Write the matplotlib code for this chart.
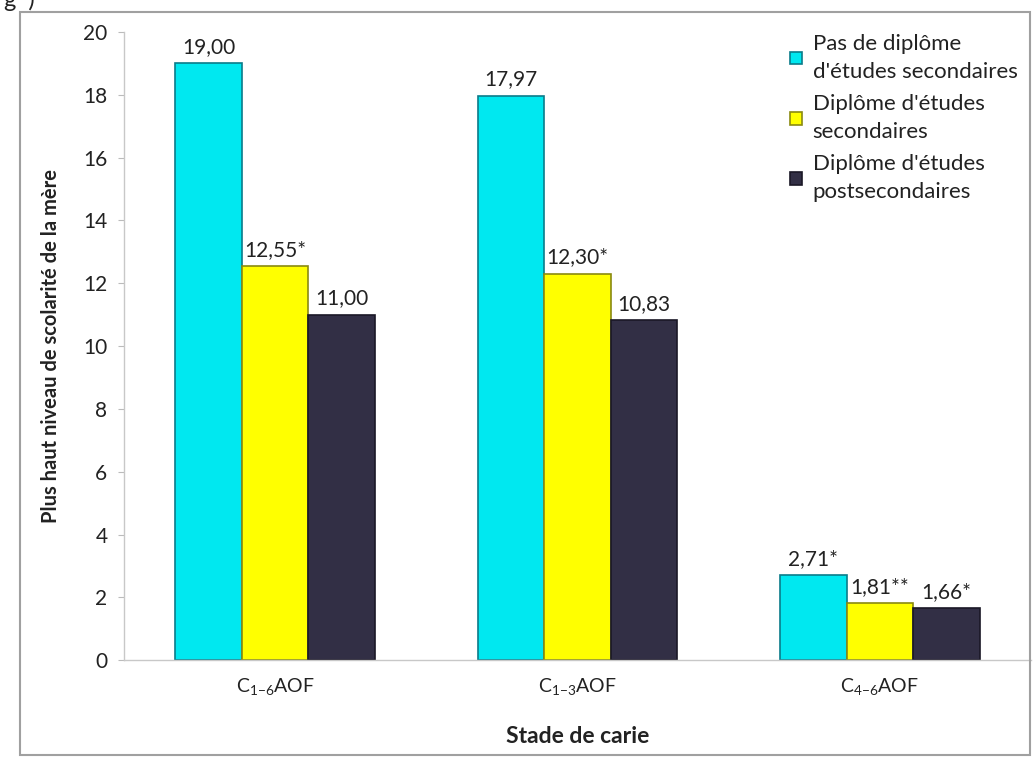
import numpy as np
import matplotlib
matplotlib.use("Agg")
import matplotlib.pyplot as plt
from matplotlib.patches import Rectangle

plt.rcParams['font.family'] = ['Lato', 'DejaVu Sans']
plt.rcParams['mathtext.fontset'] = 'custom'
plt.rcParams['mathtext.rm'] = 'Lato'

#----------------------------------------------------
# data
#----------------------------------------------------
categories = [r'C$_{1\mathrm{-}6}$AOF', r'C$_{1\mathrm{-}3}$AOF', r'C$_{4\mathrm{-}6}$AOF']
series_names = ["Pas de diplôme\nd'études secondaires",
                "Diplôme d'études\nsecondaires",
                "Diplôme d'études\npostsecondaires"]
no_diploma = [19.00, 17.97, 2.71]
secondary = [12.55, 12.30, 1.81]
postsecondary = [11.00, 10.83, 1.66]
no_diploma_labels = ['19,00', '17,97', '2,71*']
secondary_labels = ['12,55*', '12,30*', '1,81**']
postsecondary_labels = ['11,00', '10,83', '1,66*']
yticks = [0, 2, 4, 6, 8, 10, 12, 14, 16, 18, 20]

colors = ['#00E8F0', '#FFFF00', '#322F45']
edges = ['#0A7C8A', '#8A8A10', '#1A1826']

#----------------------------------------------------
# figure
#----------------------------------------------------
fig = plt.figure(figsize=(10.34, 7.59), dpi=100)
ax = fig.add_axes([0.120, 0.130, 0.877, 0.828])

x = np.arange(len(categories))
w = 0.22
all_vals = [no_diploma, secondary, postsecondary]
all_labels = [no_diploma_labels, secondary_labels, postsecondary_labels]
for i, (vals, labs) in enumerate(zip(all_vals, all_labels)):
    pos = x + (i - 1) * w
    bars = ax.bar(pos, vals, width=w, color=colors[i], edgecolor=edges[i],
                  linewidth=1.2, label=series_names[i])
    for b, lab in zip(bars, labs):
        ax.text(b.get_x() + b.get_width() / 2, b.get_height() + 0.2, lab,
                ha='center', va='bottom', fontsize=15, color='#222222')

ax.set_xlim(-0.5, 2.5)
ax.set_ylim(0, 20)
ax.set_yticks(yticks)
ax.set_yticklabels([str(t) for t in yticks], fontsize=15, color='#222222')
ax.set_xticks(x)
ax.set_xticklabels(categories, fontsize=14, color='#222222')
ax.tick_params(axis='y', length=4, color='#BBBBBB', pad=8)
ax.tick_params(axis='x', length=0, pad=12)

for s in ['top', 'right']:
    ax.spines[s].set_visible(False)
for s in ['left', 'bottom']:
    ax.spines[s].set_color('#C8C8C8')
    ax.spines[s].set_linewidth(1.0)

ax.set_ylabel('Plus haut niveau de scolarité de la mère', fontsize=14.5,
              fontweight='bold', labelpad=16, color='#222222')
ax.set_xlabel('Stade de carie', fontsize=16.5, fontweight='bold',
              labelpad=20, color='#222222')

leg = ax.legend(loc='upper right', bbox_to_anchor=(1.0, 1.018), frameon=False,
                fontsize=16, handlelength=0.5, handleheight=0.5,
                handletextpad=0.5, labelspacing=0.55, borderaxespad=0.2)
for t in leg.get_texts():
    t.set_color('#222222')
    t.set_linespacing(1.5)

# outer frame
fig.patches.append(Rectangle((20 / 1034, 4 / 759), 1010 / 1034, 743 / 759,
                             transform=fig.transFigure, fill=False,
                             edgecolor='#A0A0A0', linewidth=1.5))
fig.text(0.004, 1.014, 'g  )', fontsize=17, color='#222222', va='top')

fig.savefig('out.png', dpi=100)
